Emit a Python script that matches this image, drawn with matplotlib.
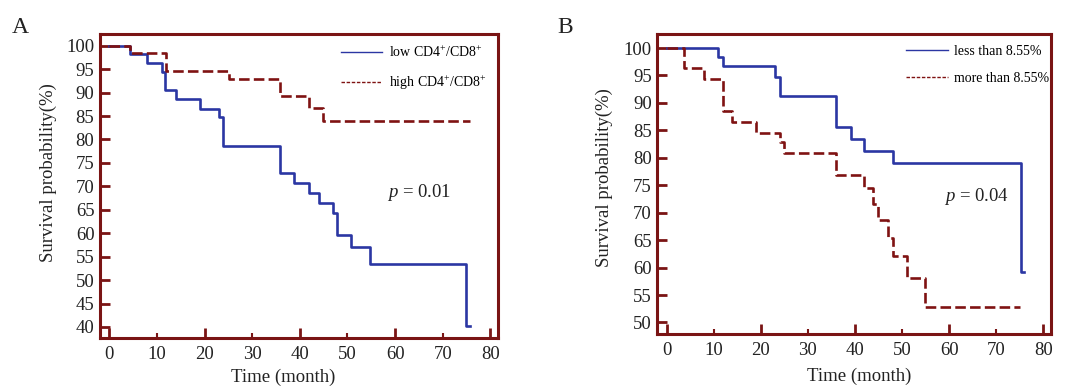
import matplotlib
matplotlib.use("Agg")
import matplotlib.pyplot as plt
from matplotlib.lines import Line2D

plt.rcParams['font.family'] = ['Liberation Serif', 'DejaVu Serif']
plt.rcParams['mathtext.fontset'] = 'custom'
plt.rcParams['mathtext.rm'] = 'Liberation Serif'
plt.rcParams['mathtext.it'] = 'Liberation Serif:italic'

# panel A: CD4+/CD8+ ratio groups (time in months, survival %)
a_low_t = [0, 4.3, 8.0, 11.1, 11.8, 14.0, 19.0, 23.0, 23.9, 35.8, 38.8, 42.0, 44.0, 46.9, 47.9, 50.8, 54.8, 74.8, 75.7]
a_low_s = [100, 98.2, 96.3, 94.3, 90.6, 88.6, 86.6, 84.8, 78.7, 72.8, 70.7, 68.6, 66.5, 64.3, 59.7, 57.1, 53.5, 40.2, 40.2]
a_high_t = [0, 4.3, 12.0, 25.1, 35.8, 42.0, 44.9, 75.7]
a_high_s = [100, 98.4, 94.7, 93.0, 89.2, 86.7, 84.0, 84.0]

# panel B: 8.55% cut-off groups
b_less_t = [0, 11.0, 11.9, 23.1, 24.0, 36.0, 39.1, 41.9, 48.0, 75.2, 75.9]
b_less_s = [100, 98.4, 96.7, 94.8, 91.2, 85.6, 83.4, 81.3, 79.0, 59.2, 59.2]
b_more_t = [0, 3.8, 7.9, 11.9, 14.0, 18.9, 24.0, 25.0, 36.0, 41.9, 43.9, 45.0, 47.0, 48.0, 51.0, 54.9, 75.0]
b_more_s = [100, 96.4, 94.4, 88.6, 86.6, 84.6, 82.8, 80.9, 76.9, 74.5, 71.6, 68.7, 65.4, 62.2, 58.1, 52.8, 52.8]

x_ticks = list(range(0, 81, 10))

BLUE = '#2b36a3'
RED = '#7f1212'
FRAME = '#7a1414'
TXT = '#222222'

fig = plt.figure(figsize=(10.68, 3.87), dpi=100)
axA = fig.add_axes([0.0936, 0.1266, 0.3727, 0.7855])
axB = fig.add_axes([0.6155, 0.1370, 0.3684, 0.7750])


def style_axis(ax, ylim, ymin_tick, xlab_pos, ylab_pos):
    ax.set_xlim(-1.95, 81.6)
    ax.set_ylim(*ylim)
    ax.set_xticks(x_ticks)
    ax.set_yticks(list(range(ymin_tick, 101, 5)))
    for s in ax.spines.values():
        s.set_color(FRAME)
        s.set_linewidth(2.2)
    ax.tick_params(axis='both', direction='in', color=FRAME, width=2,
                   labelsize=13.5, labelcolor=TXT)
    ax.tick_params(axis='x', length=7, pad=6)
    ax.tick_params(axis='y', length=7, pad=4)
    # every other x tick (10, 30, 50, 70) is short
    for i, t in enumerate(ax.xaxis.get_major_ticks()):
        if i % 2 == 1:
            t.tick1line.set_markersize(3.5)
            t.tick1line.set_markeredgewidth(1.5)
    ax.set_xlabel('Time (month)', fontsize=13.5, color=TXT, va='center')
    ax.set_ylabel('Survival probability(%)', fontsize=13.5, color=TXT, va='center')
    ax.xaxis.set_label_coords(*xlab_pos)
    ax.yaxis.set_label_coords(*ylab_pos)


style_axis(axA, (37.65, 102.5), 40, (0.46, -0.128), (-0.13, 0.543))
style_axis(axB, (47.9, 102.55), 50, (0.513, -0.142), (-0.135, 0.522))

axA.step(a_low_t, a_low_s, where='post', color=BLUE, lw=1.9)
axA.step(a_high_t, a_high_s, where='post', color=RED, lw=1.9, dashes=(4, 1.6))
axB.step(b_less_t, b_less_s, where='post', color=BLUE, lw=1.9)
axB.step(b_more_t, b_more_s, where='post', color=RED, lw=1.9, dashes=(4, 1.6))

handles = [Line2D([], [], color=BLUE, lw=1.0),
           Line2D([], [], color=RED, lw=1.0, dashes=(2.5, 1.2))]
axA.legend(handles, ['low CD4$^{+}$/CD8$^{+}$', 'high CD4$^{+}$/CD8$^{+}$'],
           loc='upper left', bbox_to_anchor=(0.605, 0.965), frameon=False,
           fontsize=10, handlelength=3.0, handletextpad=0.45, labelspacing=1.0,
           borderpad=0, borderaxespad=0)
axB.legend(handles, ['less than 8.55%', 'more than 8.55%'],
           loc='upper left', bbox_to_anchor=(0.632, 0.965), frameon=False,
           fontsize=10, handlelength=3.0, handletextpad=0.45, labelspacing=1.05,
           borderpad=0, borderaxespad=0)

axA.text(58.2, 68.6, '$p$ = 0.01', fontsize=13.5, va='center', ha='left', color=TXT)
axB.text(58.9, 73.0, '$p$ = 0.04', fontsize=13.5, va='center', ha='left', color=TXT)

fig.text(0.011, 0.915, 'A', fontsize=17, color=TXT)
fig.text(0.522, 0.915, 'B', fontsize=17, color=TXT)

fig.savefig('out.png', dpi=100)
